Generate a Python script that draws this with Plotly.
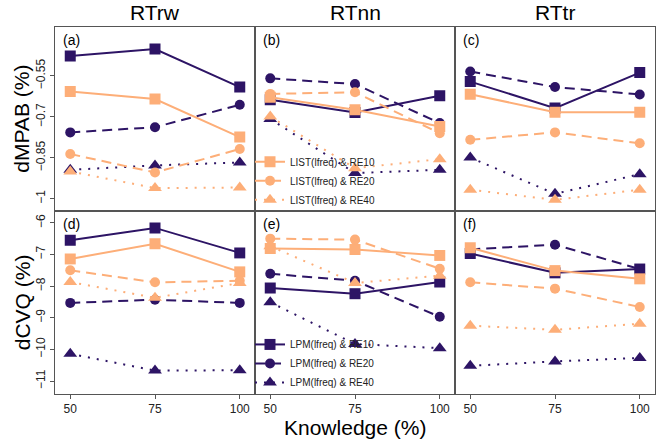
import plotly.graph_objects as go
from plotly.subplots import make_subplots

knowledge = [50, 75, 100]
datasets = ["RTrw", "RTnn", "RTtr"]

# dMPAB (%) -- top row
dmpab_lpm_re10 = {"RTrw": [-0.477, -0.452, -0.591], "RTnn": [-0.637, -0.684, -0.623], "RTtr": [-0.571, -0.668, -0.538]}
dmpab_lpm_re20 = {"RTrw": [-0.757, -0.738, -0.656], "RTnn": [-0.559, -0.580, -0.723], "RTtr": [-0.534, -0.591, -0.618]}
dmpab_lpm_re40 = {"RTrw": [-0.894, -0.878, -0.867], "RTnn": [-0.708, -0.906, -0.894], "RTtr": [-0.849, -0.982, -0.910]}
dmpab_list_re10 = {"RTrw": [-0.607, -0.635, -0.774], "RTnn": [-0.628, -0.674, -0.735], "RTtr": [-0.617, -0.683, -0.683]}
dmpab_list_re20 = {"RTrw": [-0.836, -0.904, -0.818], "RTnn": [-0.616, -0.610, -0.760], "RTtr": [-0.784, -0.757, -0.797]}
dmpab_list_re40 = {"RTrw": [-0.900, -0.961, -0.959], "RTnn": [-0.699, -0.888, -0.855], "RTtr": [-0.967, -1.004, -0.967]}

# dCVQ (%) -- bottom row
dcvq_lpm_re10 = {"RTrw": [-6.55, -6.16, -6.95], "RTnn": [-8.06, -8.24, -7.87], "RTtr": [-6.97, -7.58, -7.46]}
dcvq_lpm_re20 = {"RTrw": [-8.53, -8.43, -8.53], "RTnn": [-7.61, -7.83, -8.97], "RTtr": [-6.84, -6.69, -7.46]}
dcvq_lpm_re40 = {"RTrw": [-10.14, -10.67, -10.66], "RTnn": [-8.51, -9.83, -9.96], "RTtr": [-10.52, -10.38, -10.27]}
dcvq_list_re10 = {"RTrw": [-7.14, -6.66, -7.55], "RTnn": [-6.81, -6.84, -7.03], "RTtr": [-6.79, -7.51, -7.77]}
dcvq_list_re20 = {"RTrw": [-7.50, -7.88, -7.83], "RTnn": [-6.50, -6.53, -7.45], "RTtr": [-7.88, -8.08, -8.66]}
dcvq_list_re40 = {"RTrw": [-7.87, -8.37, -7.90], "RTnn": [-6.74, -7.90, -7.67], "RTtr": [-9.25, -9.38, -9.19]}

panel_labels = [["(a)", "(b)", "(c)"], ["(d)", "(e)", "(f)"]]
row_titles = ["dMPAB (%)", "dCVQ (%)"]
top_ticks = [-0.55, -0.7, -0.85, -1]
bottom_ticks = [-6, -7, -8, -9, -10, -11]

DARK = "#2D1465"
ORANGE = "#FDAE78"
FONT = "Liberation Sans, Arial, sans-serif"
DASH = "10px,6px"
DOT = "2px,7px"

fig = make_subplots(rows=2, cols=3, horizontal_spacing=0, vertical_spacing=0)

series = [
    # name, color, dash, symbol, size, top data, bottom data, legend
    ("LPM(lfreq) & RE10", DARK, "solid", "square", 11, dmpab_lpm_re10, dcvq_lpm_re10, "legend2"),
    ("LPM(lfreq) & RE20", DARK, DASH, "circle", 10, dmpab_lpm_re20, dcvq_lpm_re20, "legend2"),
    ("LPM(lfreq) & RE40", DARK, DOT, "triangle-up", 12, dmpab_lpm_re40, dcvq_lpm_re40, "legend2"),
    ("LIST(lfreq) & RE10", ORANGE, "solid", "square", 11, dmpab_list_re10, dcvq_list_re10, "legend"),
    ("LIST(lfreq) & RE20", ORANGE, DASH, "circle", 10, dmpab_list_re20, dcvq_list_re20, "legend"),
    ("LIST(lfreq) & RE40", ORANGE, DOT, "triangle-up", 12, dmpab_list_re40, dcvq_list_re40, "legend"),
]

for name, color, dash, symbol, size, top, bottom, leg in series:
    for r, data in ((1, top), (2, bottom)):
        for c, ds in enumerate(datasets, start=1):
            show = (leg == "legend" and r == 1 and c == 2) or (leg == "legend2" and r == 2 and c == 2)
            fig.add_trace(
                go.Scatter(
                    x=knowledge, y=data[ds], mode="lines+markers", name=name,
                    line=dict(color=color, width=2, dash=dash),
                    marker=dict(symbol=symbol, size=size, color=color),
                    showlegend=show, legend=leg,
                ),
                row=r, col=c,
            )

for r in (1, 2):
    for c in (1, 2, 3):
        fig.update_xaxes(
            range=[45.5, 104.5], showgrid=False, zeroline=False,
            showline=True, mirror=True, linecolor="#555555", linewidth=1,
            tickvals=knowledge, ticks="outside" if r == 2 else "", ticklen=4,
            tickcolor="#555555", showticklabels=(r == 2),
            tickfont=dict(family=FONT, size=12, color="#222222"),
            row=r, col=c,
        )
        fig.update_yaxes(
            range=[-1.043, -0.371] if r == 1 else [-11.41, -5.61],
            showgrid=False, zeroline=False,
            showline=True, mirror=True, linecolor="#555555", linewidth=1,
            tickvals=(top_ticks if r == 1 else bottom_ticks) if c == 1 else [],
            ticks="outside" if c == 1 else "", ticklen=4, tickcolor="#555555",
            showticklabels=(c == 1), tickangle=-90,
            tickfont=dict(family=FONT, size=12, color="#222222"),
            row=r, col=c,
        )

annotations = []
for c, ds in enumerate(datasets):
    annotations.append(dict(text=ds, x=(c + 0.5) / 3, y=1.0, xref="paper", yref="paper",
                            xanchor="center", yanchor="bottom", yshift=1, showarrow=False,
                            font=dict(family=FONT, size=21, color="black")))
for r in range(2):
    for c in range(3):
        axn = r * 3 + c + 1
        sfx = "" if axn == 1 else str(axn)
        annotations.append(dict(text=panel_labels[r][c], x=0, y=1, xref=f"x{sfx} domain", yref=f"y{sfx} domain",
                                xanchor="left", yanchor="top", xshift=6, yshift=-3, showarrow=False,
                                font=dict(family=FONT, size=14, color="black")))
annotations.append(dict(text=row_titles[0], x=-0.055, y=0.75, xref="paper", yref="paper", textangle=-90,
                        xanchor="center", yanchor="middle", showarrow=False,
                        font=dict(family=FONT, size=21, color="black")))
annotations.append(dict(text=row_titles[1], x=-0.055, y=0.25, xref="paper", yref="paper", textangle=-90,
                        xanchor="center", yanchor="middle", showarrow=False,
                        font=dict(family=FONT, size=21, color="black")))
annotations.append(dict(text="Knowledge (%)", x=0.5, y=-0.092, xref="paper", yref="paper",
                        xanchor="center", yanchor="middle", showarrow=False,
                        font=dict(family=FONT, size=21, color="black")))

fig.update_layout(
    width=660, height=439,
    margin=dict(l=55, r=5, t=27, b=45),
    paper_bgcolor="white", plot_bgcolor="white",
    annotations=annotations,
    legend=dict(x=0.325, y=0.49, xanchor="left", yanchor="bottom",
                bgcolor="rgba(0,0,0,0)", font=dict(family=FONT, size=10, color="#222222"),
                itemwidth=30, tracegroupgap=0),
    legend2=dict(x=0.325, y=-0.008, xanchor="left", yanchor="bottom",
                 bgcolor="rgba(0,0,0,0)", font=dict(family=FONT, size=10, color="#222222"),
                 itemwidth=30, tracegroupgap=0),
)

fig.write_html("out.html", config={"displayModeBar": False},
               post_script="document.body.style.margin='0';document.body.style.padding='0';")
